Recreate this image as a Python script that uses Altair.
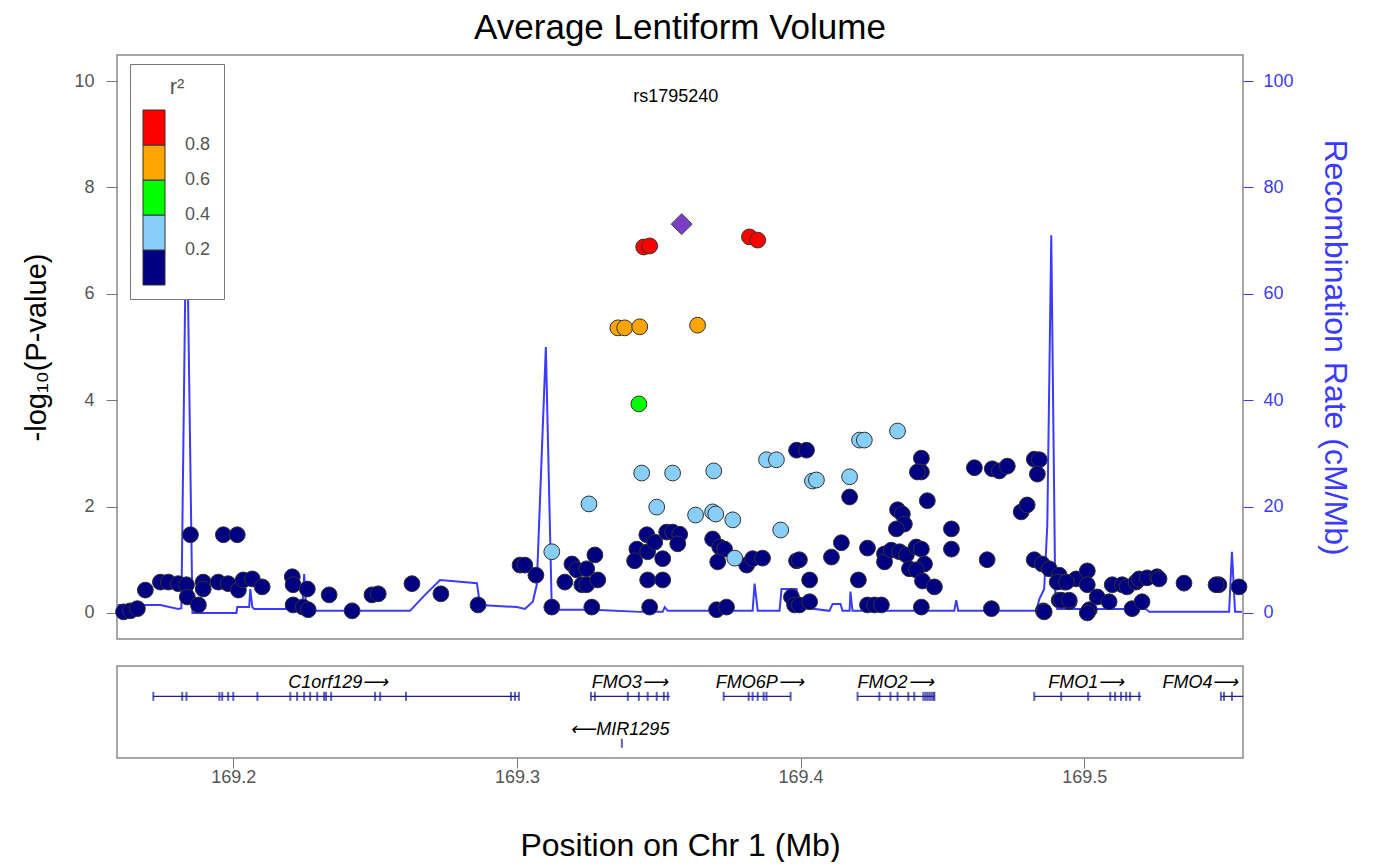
import altair as alt
import pandas as pd

# ---------------- SNP data (position in Mb, -log10 P) ----------------
navy_pos = [169.1613, 169.1637, 169.1662, 169.1690, 169.1743, 169.1771, 169.1806, 169.1835, 169.1849, 169.1838,
            169.1877, 169.1894, 169.1894, 169.1947, 169.1965, 169.2014, 169.1982, 169.2018, 169.2035, 169.2067,
            169.2102, 169.2208, 169.2211, 169.2261, 169.2211, 169.2246, 169.2264, 169.2338, 169.2419, 169.2489,
            169.2511, 169.2630, 169.2732, 169.2863, 169.3011, 169.3028, 169.3067, 169.3123, 169.3194, 169.3169,
            169.3211, 169.3229, 169.3246, 169.3246, 169.3275, 169.3285, 169.3264, 169.3423, 169.3458, 169.3415,
            169.3461, 169.3486, 169.3514, 169.3528, 169.3549, 169.3574, 169.3567, 169.3461, 169.3514, 169.3468,
            169.3690, 169.3715, 169.3732, 169.3708, 169.3810, 169.3831, 169.3866, 169.3704, 169.3739, 169.3986,
            169.4021, 169.3986, 169.3968, 169.3979, 169.4173, 169.4426, 169.4426, 169.4412, 169.4447, 169.4613,
            169.4676, 169.4701, 169.4729, 169.4824, 169.4842, 169.4835, 169.4778, 169.4799, 169.4342, 169.4359,
            169.4366, 169.4338, 169.4532, 169.4532, 169.4144, 169.3996, 169.4109, 169.4236, 169.4296, 169.4296,
            169.4320, 169.4349, 169.4373, 169.4408, 169.4426, 169.4437, 169.4384, 169.4408, 169.4032, 169.4204,
            169.4430, 169.4472, 169.4658, 169.4824, 169.4852, 169.4877, 169.3996, 169.4032, 169.4236, 169.4261,
            169.4285, 169.4426, 169.4673, 169.4856, 169.4912, 169.4930, 169.4972, 169.5011, 169.5011, 169.4912,
            169.4947, 169.5046, 169.5018, 169.5088, 169.5099, 169.5134, 169.5151, 169.5183, 169.5194, 169.5222,
            169.5257, 169.5264, 169.5169, 169.5204, 169.5352, 169.5475, 169.5546, 169.4859, 169.5011, 169.4905,
            169.4937, 169.4919, 169.4947, 169.5465]
navy_logp = [0.02, 0.04, 0.08, 0.43, 0.58, 0.58, 0.55, 0.53, 1.47, 0.30,
             0.15, 0.58, 0.45, 0.58, 1.47, 1.47, 0.55, 0.43, 0.62, 0.64,
             0.49, 0.68, 0.53, 0.45, 0.15, 0.11, 0.06, 0.34, 0.04, 0.34,
             0.36, 0.55, 0.36, 0.15, 0.90, 0.90, 0.71, 0.11, 0.92, 0.58,
             0.81, 0.53, 0.53, 0.83, 1.09, 0.62, 0.11, 1.20, 1.47, 0.98,
             1.15, 1.33, 1.02, 1.52, 1.52, 1.48, 1.30, 0.62, 0.62, 0.11,
             1.39, 1.24, 1.20, 0.96, 0.90, 1.02, 1.03, 0.06, 0.11, 3.06,
             3.06, 0.98, 0.30, 0.15, 2.18, 2.91, 2.65, 2.65, 2.11, 2.73,
             2.71, 2.67, 2.76, 2.89, 2.88, 2.61, 1.90, 2.03, 1.94, 1.86,
             1.67, 1.58, 1.58, 1.20, 1.32, 1.00, 1.05, 1.22, 1.11, 0.96,
             1.18, 1.15, 1.09, 1.24, 1.20, 0.92, 0.83, 0.81, 0.62, 0.62,
             0.60, 0.49, 1.00, 1.00, 0.92, 0.83, 0.15, 0.21, 0.15, 0.15,
             0.15, 0.11, 0.08, 0.04, 0.71, 0.58, 0.64, 0.79, 0.53, 0.24,
             0.21, 0.30, 0.06, 0.21, 0.53, 0.53, 0.49, 0.58, 0.64, 0.66,
             0.68, 0.64, 0.08, 0.21, 0.56, 0.53, 0.49, 0.02, 0.00, 0.58,
             0.58, 0.24, 0.24, 0.53]

lightblue_pos = [169.3123, 169.3254, 169.3440, 169.3549, 169.3694, 169.3493, 169.3630, 169.3690, 169.3701, 169.3761,
                 169.3768, 169.3880, 169.3915, 169.3930, 169.4042, 169.4056, 169.4173, 169.4208, 169.4225, 169.4342]
lightblue_logp = [1.15, 2.05, 2.63, 2.63, 2.67, 1.99, 1.84, 1.90, 1.86, 1.75,
                  1.03, 2.88, 2.88, 1.56, 2.48, 2.50, 2.56, 3.25, 3.25, 3.42]

green_pos = [169.3430]
green_logp = [3.93]

orange_pos = [169.3356, 169.3380, 169.3433, 169.3637]
orange_logp = [5.36, 5.36, 5.38, 5.41]

red_pos = [169.3447, 169.3468, 169.3820, 169.3849]
red_logp = [6.88, 6.90, 7.07, 7.01]

# r2 class of each group (bin midpoint)
r2_classes = [0.1, 0.3, 0.5, 0.7, 0.9]

lead_snp = "rs1795240"
lead_pos = [169.3581]
lead_logp = [7.31]

# ---------------- Recombination rate (cM/Mb) ----------------
recomb_pos = [169.1592, 169.1743, 169.1806, 169.1817, 169.1835, 169.1856, 169.2011, 169.2014, 169.2056, 169.2060,
              169.2067, 169.2074, 169.2243, 169.2250, 169.2257, 169.2623, 169.2676, 169.2729, 169.2859, 169.2870,
              169.3000, 169.3028, 169.3056, 169.3070, 169.3102, 169.3123, 169.3257, 169.3264, 169.3271, 169.3433,
              169.3514, 169.3521, 169.3532, 169.3831, 169.3838, 169.3849, 169.3926, 169.3933, 169.3986, 169.3996,
              169.4102, 169.4113, 169.4141, 169.4148, 169.4173, 169.4176, 169.4183, 169.4542, 169.4549, 169.4556,
              169.4831, 169.4842, 169.4859, 169.4870, 169.4884, 169.4898, 169.4905, 169.5218, 169.5229, 169.5511,
              169.5521, 169.5532, 169.5556]
recomb_rate = [1.5, 1.5, 0.75, 0.9, 80.0, 0.0, 0.0, 1.1, 1.1, 4.5,
               1.1, 0.75, 0.75, 7.3, 0.4, 0.4, 3.4, 6.2, 5.6, 1.5,
               1.1, 0.75, 2.1, 5.3, 50.0, 0.6, 0.6, 2.6, 0.6, 0.2,
               0.2, 1.1, 0.4, 0.4, 5.5, 0.4, 0.4, 4.5, 4.5, 1.1,
               0.4, 1.7, 1.7, 0.4, 0.4, 4.0, 0.4, 0.4, 2.4, 0.4,
               0.4, 2.6, 4.5, 16.5, 71.0, 4.0, 0.75, 0.75, 0.2, 0.2,
               11.5, 0.2, 0.2]

# ---------------- Genes ----------------
gene_names = ["C1orf129", "FMO3", "FMO6P", "FMO2", "FMO1", "FMO4", "MIR1295"]
gene_labels = ["C1orf129\u27f6", "FMO3\u27f6", "FMO6P\u27f6", "FMO2\u27f6", "FMO1\u27f6", "FMO4\u27f6",
               "\u27f5MIR1295"]
gene_start = [169.1718, 169.3261, 169.3729, 169.4201, 169.4824, 169.5482, 169.3370]
gene_end = [169.3007, 169.3539, 169.3965, 169.4472, 169.5201, 169.5600, 169.3370]
gene_label_pos = [169.2370, 169.3398, 169.3856, 169.4335, 169.5007, 169.5410, 169.3363]
gene_row = [6.7, 6.7, 6.7, 6.7, 6.7, 6.7, 1.6]
gene_label_row = [8.15, 8.15, 8.15, 8.15, 8.15, 8.15, 3.0]
gene_exons = {
    "C1orf129": [169.1718, 169.1820, 169.1835, 169.1951, 169.1961, 169.1982, 169.2000, 169.2085, 169.2201,
                 169.2225, 169.2250, 169.2271, 169.2296, 169.2320, 169.2327, 169.2345, 169.2500, 169.2518,
                 169.2609, 169.2979, 169.2993, 169.3007],
    "FMO3": [169.3261, 169.3275, 169.3391, 169.3430, 169.3461, 169.3493, 169.3518, 169.3532],
    "FMO6P": [169.3729, 169.3817, 169.3831, 169.3849, 169.3870, 169.3880, 169.3965],
    "FMO2": [169.4201, 169.4278, 169.4317, 169.4342, 169.4380, 169.4401, 169.4433, 169.4440, 169.4447,
             169.4454, 169.4461, 169.4468, 169.4472],
    "FMO1": [169.4824, 169.4919, 169.5014, 169.5092, 169.5109, 169.5130, 169.5148, 169.5162, 169.5194],
    "FMO4": [169.5482, 169.5493, 169.5521],
    "MIR1295": [169.3370],
}

# ---------------- Build tables ----------------
groups = [(navy_pos, navy_logp), (lightblue_pos, lightblue_logp), (green_pos, green_logp),
          (orange_pos, orange_logp), (red_pos, red_logp)]
rows = []
for r2, (ps, ls) in zip(r2_classes, groups):
    for p, l in zip(ps, ls):
        rows.append({"pos": p, "logp": l, "r2": r2})
snp_df = pd.DataFrame(rows)
lead_df = pd.DataFrame({"pos": lead_pos, "logp": lead_logp, "name": [lead_snp]})
lead_label_df = pd.DataFrame({"pos": [169.356], "logp": [9.7], "name": [lead_snp]})
rec_df = pd.DataFrame({"pos": recomb_pos, "rate": recomb_rate})
gene_df = pd.DataFrame({"gene": gene_names, "label": gene_labels, "start": gene_start, "end": gene_end,
                        "lpos": gene_label_pos, "row": gene_row, "lrow": gene_label_row})
exon_rows = []
for g, r in zip(gene_names, gene_row):
    for e in gene_exons[g]:
        exon_rows.append({"gene": g, "pos": e, "row": r})
exon_df = pd.DataFrame(exon_rows)

# ---------------- Scales / styling ----------------
FONT = "Liberation Sans"
BLUE = "#3B3BFF"
GENE_BLUE = "#1F1F9C"
x_scale = alt.Scale(domain=[169.159, 169.556], nice=False, zero=False)
y_scale = alt.Scale(domain=[-0.49, 10.49], nice=False, zero=False)
r_scale = alt.Scale(domain=[-4.9, 104.9], nice=False, zero=False)
g_scale = alt.Scale(domain=[0, 10], nice=False, zero=False)
color_scale = alt.Scale(type="threshold", domain=[0.2, 0.4, 0.6, 0.8],
                        range=["#000080", "#87CEFA", "#00FF00", "#FFA500", "#FF0000"])

W = 1126

recomb_layer = alt.Chart(rec_df).mark_line(color=BLUE, strokeWidth=2, clip=True).encode(
    x=alt.X("pos:Q", scale=x_scale, axis=None),
    y=alt.Y("rate:Q", scale=r_scale,
            axis=alt.Axis(orient="right", values=[0, 20, 40, 60, 80, 100], title="Recombination Rate (cM/Mb)",
                          titleColor=BLUE, labelColor=BLUE, tickColor=BLUE, tickSize=10, labelPadding=10,
                          labelFontSize=18, titleFontSize=32, titlePadding=24, titleFontWeight="normal")),
)

snp_layer = alt.Chart(snp_df).mark_circle(size=250, stroke="#333333", strokeWidth=1, opacity=1).encode(
    x=alt.X("pos:Q", scale=x_scale, axis=None),
    y=alt.Y("logp:Q", scale=y_scale,
            axis=alt.Axis(orient="left", values=[0, 2, 4, 6, 8, 10], title="-log\u2081\u2080(P-value)",
                          titleColor="black", labelColor="#555555", tickColor="#777777", tickSize=11,
                          labelPadding=12, labelFontSize=18, titleFontSize=29, titlePadding=22,
                          titleFontWeight="normal")),
    color=alt.Color("r2:Q", scale=color_scale,
                    legend=alt.Legend(type="gradient", title="r\u00b2", orient="none", legendX=13, legendY=9,
                                      direction="vertical", gradientLength=175, gradientThickness=22,
                                      fillColor="white", strokeColor="#777777", padding=13,
                                      labelFontSize=18, labelColor="#555555", labelOffset=20,
                                      titleFontSize=22, titleFontWeight="normal", titleColor="#555555",
                                      titlePadding=11, titleAnchor="middle", gradientStrokeColor="#333333",
                                      gradientStrokeWidth=1)),
)

lead_layer = alt.Chart(lead_df).mark_point(shape="diamond", filled=True, size=440, color="#7B3FC4",
                                           stroke="#444444", strokeWidth=1, opacity=1).encode(
    x=alt.X("pos:Q", scale=x_scale, axis=None),
    y=alt.Y("logp:Q", scale=y_scale),
)

lead_text = alt.Chart(lead_label_df).mark_text(fontSize=18, color="black", font=FONT).encode(
    x=alt.X("pos:Q", scale=x_scale, axis=None),
    y=alt.Y("logp:Q", scale=y_scale),
    text="name:N",
)

main = alt.layer(recomb_layer, alt.layer(snp_layer, lead_layer, lead_text)).resolve_scale(
    y="independent").properties(
    width=W, height=584,
    title=alt.Title("Average Lentiform Volume", fontSize=35, fontWeight="normal", anchor="middle",
                    frame="group", offset=9, color="black", font=FONT),
)

x_axis = alt.Axis(values=[169.2, 169.3, 169.4, 169.5], format=".1f", title="Position on Chr 1 (Mb)",
                  labelFontSize=18, labelColor="#555555", tickColor="#777777", tickSize=10,
                  labelPadding=0, titleFontSize=32, titleFontWeight="normal", titleColor="black",
                  titlePadding=44)

gene_lines = alt.Chart(gene_df).mark_rule(color=GENE_BLUE, strokeWidth=1.3, clip=True).encode(
    x=alt.X("start:Q", scale=x_scale, axis=x_axis), x2="end:Q",
    y=alt.Y("row:Q", scale=g_scale, axis=None),
)
exon_ticks = alt.Chart(exon_df).mark_tick(color=GENE_BLUE, thickness=2, size=9, orient="vertical",
                                          clip=True).encode(
    x=alt.X("pos:Q", scale=x_scale, axis=x_axis),
    y=alt.Y("row:Q", scale=g_scale, axis=None),
)
gene_text = alt.Chart(gene_df).mark_text(fontSize=18, fontStyle="italic", color="black", font=FONT).encode(
    x=alt.X("lpos:Q", scale=x_scale, axis=x_axis),
    y=alt.Y("lrow:Q", scale=g_scale, axis=None),
    text="label:N",
)
genes = alt.layer(gene_lines, exon_ticks, gene_text).properties(width=W, height=92)

chart = alt.vconcat(main, genes, spacing=25).properties(
    padding={"left": 14, "top": 2, "right": 0, "bottom": 0}
).configure_view(stroke="#8a8a8a", strokeWidth=1.5).configure_axis(
    domain=False, grid=False, labelFont=FONT, titleFont=FONT
).configure_legend(labelFont=FONT, titleFont=FONT)

chart.save("out.html", embed_options={"renderer": "svg", "actions": False})
